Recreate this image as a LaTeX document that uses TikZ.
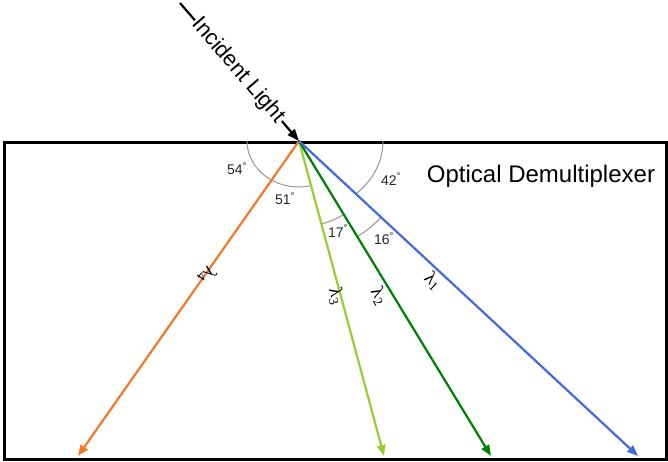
\documentclass[tikz,border=0pt]{standalone}
\usepackage{fontspec}
\setmainfont{Liberation Sans}
\newfontfamily\lambdafont{Liberation Serif}
\usepackage{tikz}
\usetikzlibrary{arrows.meta}
\definecolor{rayorange}{RGB}{245, 120, 40}
\definecolor{raylime}{RGB}{154, 205, 50}
\definecolor{raygreen}{RGB}{0, 128, 0}
\definecolor{rayblue}{RGB}{65, 105, 225}
\definecolor{arcgray}{RGB}{150, 150, 150}
\tikzset{
  >=Stealth,
  rayarrow/.style={-{Triangle[length=11pt, width=8.5pt]}, line width=2.2pt},
  rayarrow_orange/.style={rayarrow, rayorange},
  rayarrow_lime/.style={rayarrow, raylime},
  rayarrow_green/.style={rayarrow, raygreen},
  rayarrow_blue/.style={rayarrow, rayblue},
  incidentarrow/.style={-{Triangle[length=12pt, width=9pt]}, line width=2.2pt, black},
  anglearc/.style={arcgray, line width=1pt}
}

\begin{document}
\begin{tikzpicture}[x=1pt, y=-1pt,
    blocknode/.style={draw, line width=3pt, inner sep=0pt, anchor=north west, minimum width=662pt, minimum height=317pt},
    anglelabel/.style={font=\fontsize{14}{16}\selectfont, text=black!85, inner sep=0pt},
    lambdalabel/.style={font=\fontsize{19}{21}\selectfont\lambdafont, inner sep=0pt}]

    \useasboundingbox (0,0) rectangle (668,461);

    % Demultiplexer block
    \node[blocknode] (block) at (3,141) {};
    \node[font=\fontsize{24}{28}\selectfont] (title) at (541,176) {Optical Demultiplexer};

    % Points where the light enters and leaves
    \coordinate (source) at (180,3);
    \coordinate (apex) at (299,141);
    \coordinate (end4) at (78,456);
    \coordinate (end3) at (384,456);
    \coordinate (end2) at (491,456);
    \coordinate (end1) at (638,456);

    % Angle arcs
    \draw[anglearc] (apex) ++(76.6:52 and 46) arc[start angle=76.6, end angle=180, x radius=52, y radius=46];
    \draw[anglearc] (apex) ++(0:84 and 72) arc[start angle=0, end angle=47.3, x radius=84, y radius=72];
    \draw[anglearc] (apex) ++(58.6:86) arc[start angle=58.6, end angle=74.9, radius=86];
    \draw[anglearc] (apex) ++(42.9:112) arc[start angle=42.9, end angle=58.6, radius=112];

    % Rays
    \draw[rayarrow_orange] (apex) -- (end4);
    \draw[rayarrow_lime] (apex) -- (end3);
    \draw[rayarrow_green] (apex) -- (end2);
    \draw[rayarrow_blue] (apex) -- (end1);

    % Incident light
    \draw[incidentarrow] (source) -- node[pos=0.49, sloped, fill=white, inner sep=1pt, font=\fontsize{22}{24}\selectfont] (incident) {Incident Light} (apex);

    % Angle labels
    \node[anglelabel] (deg54) at (237,169) {54\textsuperscript{°}};
    \node[anglelabel] (deg51) at (285,199) {51\textsuperscript{°}};
    \node[anglelabel] (deg42) at (391,179) {42\textsuperscript{°}};
    \node[anglelabel] (deg17) at (338,231) {17\textsuperscript{°}};
    \node[anglelabel] (deg16) at (384,239) {16\textsuperscript{°}};

    % Wavelength labels
    \node[lambdalabel, rotate=-125] (lam4) at (207,275) {λ\textsubscript{4}};
    \node[lambdalabel, rotate=-74.9] (lam3) at (336,296) {λ\textsubscript{3}};
    \node[lambdalabel, rotate=-58.6] (lam2) at (379,296) {λ\textsubscript{2}};
    \node[lambdalabel, rotate=-42.9] (lam1) at (433,281) {λ\textsubscript{1}};

\end{tikzpicture}
\end{document}
